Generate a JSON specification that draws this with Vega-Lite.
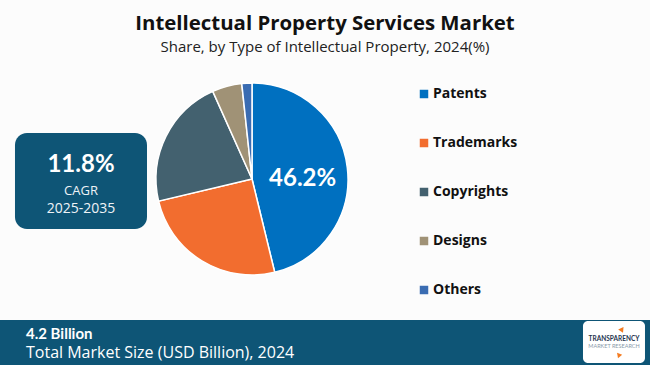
{
  "$schema": "https://vega.github.io/schema/vega-lite/v6.json",
  "background": "#FCFCFC",
  "padding": 0,
  "config": {"view": {"stroke": null}},
  "spacing": 19,
  "resolve": {"scale": {"color": "independent"}, "legend": {"color": "independent"}},
  "vconcat": [
    {
      "spacing": 22,
      "resolve": {"scale": {"color": "independent"}, "legend": {"color": "independent"}},
      "vconcat": [
        {
          "width": 650,
          "height": 58,
          "resolve": {"scale": {"y": "independent"}},
          "layer": [
            {
              "data": {"values": [{"line": "title", "text": "Intellectual Property Services Market"}]},
              "mark": {"type": "text", "font": "Open Sans", "fontSize": 20.4, "fontWeight": "bold", "fill": "#111111", "baseline": "alphabetic", "align": "center"},
              "encoding": {
                "y": {"field": "line", "type": "nominal", "axis": null, "scale": {"type": "point", "align": 0.517}},
                "text": {"field": "text"}
              }
            },
            {
              "data": {"values": [{"line": "subtitle", "text": "Share, by Type of Intellectual Property, 2024(%)"}]},
              "mark": {"type": "text", "font": "Open Sans", "fontSize": 15, "fill": "#222222", "baseline": "alphabetic", "align": "center"},
              "encoding": {
                "y": {"field": "line", "type": "nominal", "axis": null, "scale": {"type": "point", "align": 0.897}},
                "text": {"field": "text"}
              }
            }
          ]
        },
        {
          "spacing": 0,
          "resolve": {"scale": {"color": "independent"}, "legend": {"color": "independent"}},
          "hconcat": [
            {
              "width": 153,
              "height": 192,
              "data": {"values": [{"box": "CAGR"}]},
              "resolve": {"scale": {"y": "independent"}},
              "layer": [
                {
                  "mark": {"type": "rect", "fill": "#0E5576", "cornerRadius": 12},
                  "encoding": {
                    "x": {"field": "box", "type": "nominal", "axis": null, "scale": {"type": "band", "paddingInner": 0, "paddingOuter": 0.0795, "align": 0.714}},
                    "y": {"field": "box", "type": "nominal", "axis": null, "scale": {"type": "band", "paddingInner": 0, "paddingOuter": 0.5, "align": 0.521}}
                  }
                },
                {
                  "data": {"values": [{"box": "CAGR", "line": "rate", "text": "11.8%"}]},
                  "mark": {"type": "text", "font": "Lato", "fontSize": 24, "fontWeight": "bold", "fill": "#FFFFFF", "baseline": "alphabetic", "align": "center"},
                  "encoding": {
                    "x": {"field": "box", "type": "nominal", "axis": null},
                    "y": {"field": "line", "type": "nominal", "axis": null, "scale": {"type": "point", "align": 0.4635}},
                    "text": {"field": "text"}
                  }
                },
                {
                  "data": {"values": [{"box": "CAGR", "line": "label", "text": "CAGR"}]},
                  "mark": {"type": "text", "font": "Open Sans", "fontSize": 13, "fill": "#EEF3F6", "baseline": "alphabetic", "align": "center"},
                  "encoding": {
                    "x": {"field": "box", "type": "nominal", "axis": null},
                    "y": {"field": "line", "type": "nominal", "axis": null, "scale": {"type": "point", "align": 0.5833}},
                    "text": {"field": "text"}
                  }
                },
                {
                  "data": {"values": [{"box": "CAGR", "line": "period", "text": "2025-2035"}]},
                  "mark": {"type": "text", "font": "Open Sans", "fontSize": 14, "fill": "#EEF3F6", "baseline": "alphabetic", "align": "center"},
                  "encoding": {
                    "x": {"field": "box", "type": "nominal", "axis": null},
                    "y": {"field": "line", "type": "nominal", "axis": null, "scale": {"type": "point", "align": 0.677}},
                    "text": {"field": "text"}
                  }
                }
              ]
            },
            {
              "width": 192,
              "height": 192,
              "data": {"values": [
                {"type": "Patents", "share": 46.2, "rank": 1, "label": "46.2%"},
                {"type": "Trademarks", "share": 25.1, "rank": 2, "label": ""},
                {"type": "Copyrights", "share": 22.0, "rank": 3, "label": ""},
                {"type": "Designs", "share": 5.0, "rank": 4, "label": ""},
                {"type": "Others", "share": 1.7, "rank": 5, "label": ""}
              ]},
              "encoding": {
                "theta": {"field": "share", "type": "quantitative", "stack": true},
                "order": {"field": "rank", "type": "quantitative"}
              },
              "layer": [
                {
                  "mark": {"type": "arc", "stroke": "#FFFFFF", "strokeWidth": 1.5},
                  "encoding": {
                    "color": {
                      "field": "type",
                      "type": "nominal",
                      "scale": {
                        "domain": ["Patents", "Trademarks", "Copyrights", "Designs", "Others"],
                        "range": ["#0070C0", "#F26D2F", "#43616F", "#A09276", "#3A6CB2"]
                      },
                      "legend": {
                        "title": null,
                        "orient": "right",
                        "offset": 65,
                        "padding": 4,
                        "symbolType": "square",
                        "symbolSize": 72,
                        "symbolStrokeWidth": 0,
                        "labelFont": "Open Sans",
                        "labelFontSize": 14,
                        "labelFontWeight": "bold",
                        "labelColor": "#111111",
                        "labelOffset": 2,
                        "rowPadding": 35
                      }
                    }
                  }
                },
                {
                  "mark": {"type": "text", "radius": 51, "font": "Lato", "fontSize": 24, "fontWeight": "bold", "fill": "#FFFFFF", "dy": 6},
                  "encoding": {
                    "text": {"field": "label"},
                    "detail": {"field": "type"}
                  }
                }
              ]
            }
          ]
        }
      ]
    },
    {
      "width": 650,
      "height": 45,
      "resolve": {"scale": {"x": "independent", "y": "independent"}},
      "layer": [
        {
          "data": {"values": [{"part": "banner"}]},
          "mark": {"type": "rect", "fill": "#0E5576"},
          "encoding": {}
        },
        {
          "data": {"values": [{"slot": "value", "text": "4.2 Billion"}]},
          "mark": {"type": "text", "font": "Lato", "fontSize": 15, "fontWeight": "bold", "fill": "#FFFFFF", "align": "left", "baseline": "alphabetic"},
          "encoding": {
            "x": {"field": "slot", "type": "nominal", "axis": null, "scale": {"type": "point", "align": 0.04}},
            "y": {"field": "slot", "type": "nominal", "axis": null, "scale": {"type": "point", "align": 0.4222}},
            "text": {"field": "text"}
          }
        },
        {
          "data": {"values": [{"slot": "label", "text": "Total Market Size (USD Billion), 2024"}]},
          "mark": {"type": "text", "font": "Open Sans", "fontSize": 16, "fill": "#FFFFFF", "align": "left", "baseline": "alphabetic"},
          "encoding": {
            "x": {"field": "slot", "type": "nominal", "axis": null, "scale": {"type": "point", "align": 0.04}},
            "y": {"field": "slot", "type": "nominal", "axis": null, "scale": {"type": "point", "align": 0.8444}},
            "text": {"field": "text"}
          }
        },
        {
          "data": {"values": [{"slot": "logo"}]},
          "mark": {"type": "rect", "fill": "#FFFFFF", "cornerRadius": 5, "width": 62, "height": 42},
          "encoding": {
            "x": {"field": "slot", "type": "nominal", "axis": null, "scale": {"type": "point", "align": 0.9446}},
            "y": {"field": "slot", "type": "nominal", "axis": null, "scale": {"type": "point", "align": 0.489}}
          }
        },
        {
          "data": {"values": [{"slot": "logo", "text": "TRANSPARENCY"}]},
          "mark": {"type": "text", "font": "Lato", "fontSize": 6.5, "fontWeight": "bold", "fill": "#1F3550", "align": "center", "baseline": "middle"},
          "encoding": {
            "x": {"field": "slot", "type": "nominal", "axis": null, "scale": {"type": "point", "align": 0.9446}},
            "y": {"field": "slot", "type": "nominal", "axis": null, "scale": {"type": "point", "align": 0.42}},
            "text": {"field": "text"}
          }
        },
        {
          "data": {"values": [{"slot": "logo", "text": "MARKET RESEARCH"}]},
          "mark": {"type": "text", "font": "Lato", "fontSize": 5.5, "fill": "#8A9AAA", "align": "center", "baseline": "middle"},
          "encoding": {
            "x": {"field": "slot", "type": "nominal", "axis": null, "scale": {"type": "point", "align": 0.9446}},
            "y": {"field": "slot", "type": "nominal", "axis": null, "scale": {"type": "point", "align": 0.57}},
            "text": {"field": "text"}
          }
        },
        {
          "data": {"values": [{"slot": "logo"}]},
          "mark": {"type": "point", "shape": "triangle-up", "filled": true, "size": 35, "angle": 35, "fill": "#F47B20", "opacity": 1},
          "encoding": {
            "x": {"field": "slot", "type": "nominal", "axis": null, "scale": {"type": "point", "align": 0.957}},
            "y": {"field": "slot", "type": "nominal", "axis": null, "scale": {"type": "point", "align": 0.2}}
          }
        },
        {
          "data": {"values": [{"slot": "logo"}]},
          "mark": {"type": "point", "shape": "triangle-down", "filled": true, "size": 30, "angle": 20, "fill": "#F47B20", "opacity": 1},
          "encoding": {
            "x": {"field": "slot", "type": "nominal", "axis": null, "scale": {"type": "point", "align": 0.952}},
            "y": {"field": "slot", "type": "nominal", "axis": null, "scale": {"type": "point", "align": 0.8}}
          }
        }
      ]
    }
  ]
}
